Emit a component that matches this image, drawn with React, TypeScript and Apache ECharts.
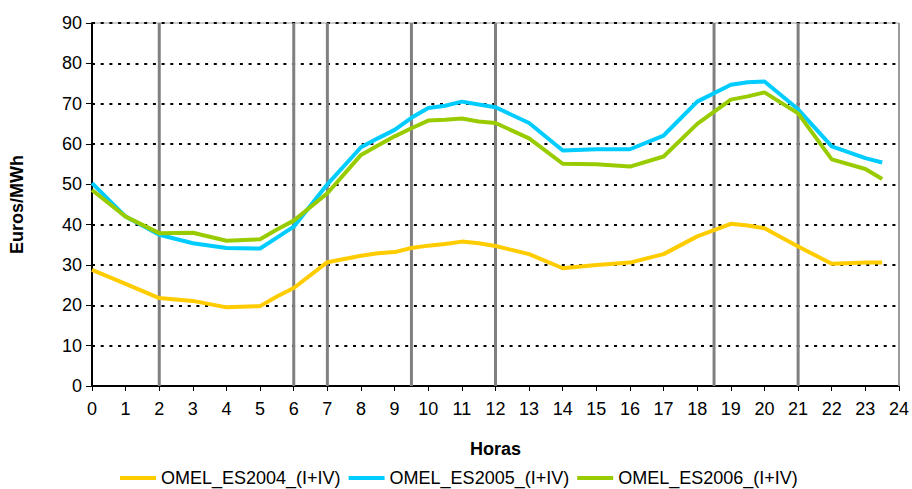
import React, { useEffect, useRef } from "react";
import * as echarts from "echarts";

const hours = [0, 1, 2, 3, 4, 5, 5.5, 6, 7, 8, 8.5, 9, 9.5, 10, 10.5, 11, 11.5, 12, 13, 14, 15, 16, 17, 18, 19, 19.5, 20, 21, 22, 23, 23.5];

const es2004 = [28.8, 25.3, 21.8, 21.1, 19.5, 19.8, 22.2, 24.3, 30.7, 32.3, 32.9, 33.2, 34.2, 34.8, 35.2, 35.8, 35.4, 34.7, 32.7, 29.2, 30.0, 30.6, 32.7, 37.1, 40.2, 39.8, 39.1, 34.6, 30.3, 30.6, 30.6];
const es2005 = [50.3, 42.0, 37.5, 35.4, 34.2, 34.1, 36.8, 39.5, 50.0, 59.2, 61.4, 63.5, 66.5, 68.9, 69.5, 70.5, 69.8, 69.1, 65.2, 58.4, 58.7, 58.7, 62.1, 70.5, 74.7, 75.3, 75.5, 68.6, 59.4, 56.5, 55.4];
const es2006 = [48.6, 42.0, 37.9, 38.0, 36.0, 36.4, 38.8, 41.0, 47.8, 57.3, 59.6, 61.9, 63.9, 65.8, 66.0, 66.3, 65.6, 65.2, 61.4, 55.1, 55.0, 54.4, 56.9, 65.0, 71.0, 71.8, 72.8, 67.6, 56.2, 53.8, 51.3];

const seriesNames = ["OMEL_ES2004_(I+IV)", "OMEL_ES2005_(I+IV)", "OMEL_ES2006_(I+IV)"];
const seriesColors = ["#FFCC00", "#00CCFF", "#99CC00"];
const separatorHours = [2, 6, 7, 9.5, 12, 18.5, 21];
const xTicks = { min: 0, max: 24, interval: 1 };
const yTicks = { min: 0, max: 90, interval: 10 };

export default function App() {
  const ref = useRef<HTMLDivElement>(null);
  useEffect(() => {
    if (!ref.current) return;
    const chart = echarts.init(ref.current, undefined, { renderer: "svg" });
    const font = "Liberation Sans, Arial, sans-serif";
    const values = [es2004, es2005, es2006];
    const dataSeries = values.map((vals, i) => ({
      name: seriesNames[i],
      type: "line",
      data: hours.map((h, j) => [h, vals[j]]),
      symbol: "none",
      lineStyle: { color: seriesColors[i], width: 4 },
      itemStyle: { color: seriesColors[i] },
      z: 3 + i,
    }));
    const sepSeries = separatorHours.map((h) => ({
      name: "sep" + h,
      type: "line",
      data: [[h, yTicks.min], [h, yTicks.max]],
      symbol: "none",
      silent: true,
      lineStyle: { color: "#808080", width: 3 },
      z: 1,
    }));
    const borderSeries = {
      name: "border",
      type: "line",
      data: [[xTicks.max, yTicks.min], [xTicks.max, yTicks.max]],
      symbol: "none",
      silent: true,
      lineStyle: { color: "#9a9a9a", width: 2 },
      z: 1,
    };
    chart.setOption({
      animation: false,
      backgroundColor: "#fff",
      textStyle: { fontFamily: font },
      grid: {
        left: 91,
        right: 12,
        top: 23,
        bottom: 103,
        show: true,
        borderColor: "#9a9a9a",
        borderWidth: 1,
      },
      legend: {
        data: seriesNames,
        left: 120,
        top: 469,
        padding: 0,
        icon: "rect",
        itemWidth: 36,
        itemHeight: 4,
        itemGap: 8,
        textStyle: { fontSize: 18, color: "#000", fontFamily: font },
      },
      xAxis: {
        type: "value",
        min: xTicks.min,
        max: xTicks.max,
        interval: xTicks.interval,
        name: "Horas",
        nameLocation: "middle",
        nameGap: 54,
        nameTextStyle: { fontSize: 18, fontWeight: "bold", color: "#000", fontFamily: font },
        axisLine: { lineStyle: { color: "#000", width: 2 } },
        axisTick: { show: true, length: 5, lineStyle: { color: "#000", width: 1 } },
        axisLabel: { fontSize: 18, color: "#000", margin: 14, fontFamily: font },
        splitLine: { show: false },
      },
      yAxis: {
        type: "value",
        min: yTicks.min,
        max: yTicks.max,
        interval: yTicks.interval,
        name: "Euros/MWh",
        nameLocation: "middle",
        nameRotate: 90,
        nameGap: 66,
        nameTextStyle: { fontSize: 18, fontWeight: "bold", color: "#000", fontFamily: font },
        axisLine: { show: true, lineStyle: { color: "#000", width: 2 } },
        axisTick: { show: true, length: 6, lineStyle: { color: "#000", width: 1 } },
        axisLabel: { fontSize: 18, color: "#000", margin: 10, fontFamily: font },
        splitLine: { show: true, lineStyle: { color: "#000", width: 2, type: [3, 5.7] } },
      },
      series: [...sepSeries, borderSeries, ...dataSeries],
    });
    return () => chart.dispose();
  }, []);
  return <div ref={ref} style={{ width: 912, height: 489, position: "absolute", left: 0, top: 0 }} />;
}
